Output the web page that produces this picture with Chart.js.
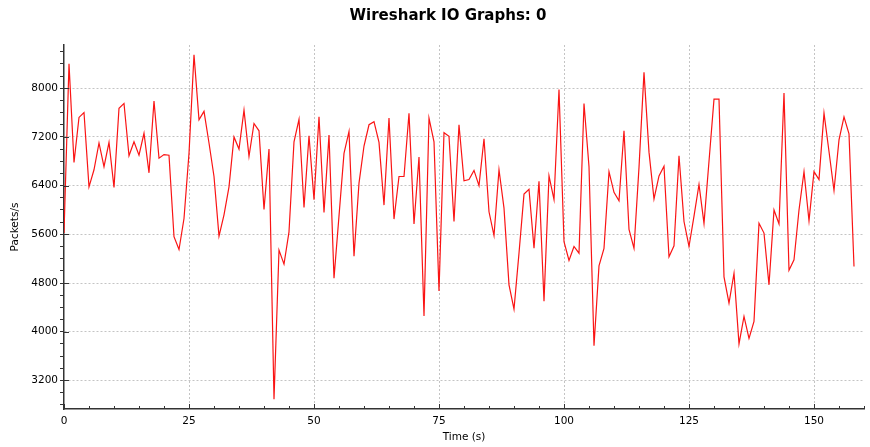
<!DOCTYPE html>
<html>
<head>
<meta charset="utf-8">
<script src="https://cdn.jsdelivr.net/npm/chart.js@4"></script>
<style>
  html, body { margin: 0; padding: 0; background: #fff; }
  #chart { display: block; }
</style>
</head>
<body>
<canvas id="chart" width="870" height="447"></canvas>
<script>
// packets per second, one sample per second from t = 0
const packetsPerSecond = [
  5620, 8400, 6780, 7520, 7600, 6380, 6660, 7100, 6710, 7110,
  6370, 7670, 7750, 6890, 7120, 6900, 7260, 6610, 7790, 6850,
  6910, 6900, 5560, 5350, 5860, 6930, 8550, 7480, 7620, 7100,
  6550, 5570, 5920, 6380, 7200, 7000, 7640, 6880, 7420, 7300,
  6010, 7000, 2890, 5340, 5110, 5640, 7120, 7490, 6040, 7220,
  6170, 7530, 5960, 7230, 4880, 5900, 6930, 7290, 5240, 6440,
  7050, 7400, 7450, 7110, 6080, 7510, 5850, 6550, 6550, 7590,
  5770, 6870, 4260, 7510, 7120, 4670, 7270, 7210, 5810, 7400,
  6480, 6500, 6650, 6400, 7170, 5970, 5580, 6660, 6030, 4770,
  4370, 5290, 6260, 6340, 5370, 6470, 4500, 6560, 6170, 7980,
  5480, 5170, 5400, 5290, 7750, 6710, 3770, 5080, 5370, 6630,
  6290, 6150, 7300, 5680, 5370, 6700, 8260, 6950, 6180, 6560,
  6720, 5230, 5410, 6890, 5810, 5400, 5900, 6420, 5780, 6800,
  7820, 7820, 4900, 4470, 4960, 3800, 4250, 3890, 4170, 5780,
  5620, 4770, 6000, 5770, 7920, 5010, 5180, 6000, 6630, 5820,
  6630, 6500, 7590, 6960, 6320, 7150, 7530, 7250, 5070
];
const seconds = packetsPerSecond.map((_, i) => i);

const xMajorTicks = [0, 25, 50, 75, 100, 125, 150];
const yMajorTicks = [3200, 4000, 4800, 5600, 6400, 7200, 8000];

const chartTitle = 'Wireshark IO Graphs: 0';
const xTitle = 'Time (s)';
const yTitle = 'Packets/s';

const FONT = 'DejaVu Sans';
const AXIS_COLOR = '#333';
const GRID_COLOR = '#c4c4c4';

// draws the title and the small inward tick marks like the Wireshark plot
const decorations = {
  id: 'decorations',
  afterDraw(chart) {
    const { ctx, chartArea, scales } = chart;
    ctx.save();
    ctx.strokeStyle = AXIS_COLOR;
    ctx.lineWidth = 1;
    ctx.beginPath();
    scales.x.ticks.forEach(t => {
      const px = Math.round(scales.x.getPixelForValue(t.value)) + 0.5;
      const len = xMajorTicks.includes(t.value) ? 5 : 3;
      ctx.moveTo(px, chartArea.bottom);
      ctx.lineTo(px, chartArea.bottom - len);
    });
    yMajorTicks.forEach(v => {
      const py = Math.round(scales.y.getPixelForValue(v)) + 0.5;
      ctx.moveTo(chartArea.left, py);
      ctx.lineTo(chartArea.left + 5, py);
    });
    ctx.stroke();

    ctx.fillStyle = '#000';
    ctx.font = 'bold 15px "' + FONT + '"';
    ctx.textAlign = 'center';
    ctx.textBaseline = 'middle';
    ctx.fillText(chartTitle, 448, 16);
    ctx.restore();
  }
};

new Chart(document.getElementById('chart'), {
  type: 'line',
  data: {
    datasets: [{
      label: 'Packets/s',
      data: seconds.map((t, i) => ({ x: t, y: packetsPerSecond[i] })),
      borderColor: 'rgb(250, 20, 20)',
      borderWidth: 1.2,
      pointRadius: 0,
      tension: 0,
      fill: false
    }]
  },
  options: {
    responsive: false,
    animation: false,
    devicePixelRatio: 1,
    layout: { padding: { top: 45, right: 2, left: 0, bottom: 0 } },
    plugins: {
      legend: { display: false },
      tooltip: { enabled: false }
    },
    scales: {
      x: {
        type: 'linear',
        min: 0,
        max: 160,
        afterFit(scale) { scale.height = 38; },
        border: { color: AXIS_COLOR, width: 1.5, dash: [2, 2] },
        grid: {
          drawTicks: false,
          color: ctx => (ctx.tick && ctx.tick.value !== 0 && ctx.tick.value % 25 === 0) ? GRID_COLOR : 'transparent'
        },
        ticks: {
          stepSize: 5,
          autoSkip: false,
          maxRotation: 0,
          padding: 6,
          color: '#000',
          font: { family: FONT, size: 10.5 },
          callback: v => xMajorTicks.includes(v) ? String(v) : ''
        },
        title: {
          display: true,
          text: xTitle,
          color: '#000',
          font: { family: FONT, size: 10.5 },
          padding: { top: 0, bottom: 3 }
        }
      },
      y: {
        type: 'linear',
        min: 2730,
        max: 8710,
        afterBuildTicks(scale) {
          // minor ticks every 200, labels only on the 800 steps
          const ticks = [];
          for (let v = 2800; v <= 8600; v += 200) ticks.push({ value: v });
          scale.ticks = ticks;
        },
        afterFit(scale) { scale.width = 64; },
        border: { color: AXIS_COLOR, width: 1.5, dash: [2, 2] },
        grid: {
          tickLength: 4,
          tickColor: AXIS_COLOR,
          color: ctx => (ctx.tick && yMajorTicks.includes(ctx.tick.value)) ? GRID_COLOR : 'transparent'
        },
        ticks: {
          autoSkip: false,
          padding: 2,
          color: '#000',
          font: { family: FONT, size: 10.5 },
          callback: v => yMajorTicks.includes(v) ? String(v) : ''
        },
        title: {
          display: true,
          text: yTitle,
          color: '#000',
          font: { family: FONT, size: 10.5 },
          padding: { top: 9, bottom: 0 }
        }
      }
    }
  },
  plugins: [decorations]
});
</script>
</body>
</html>
